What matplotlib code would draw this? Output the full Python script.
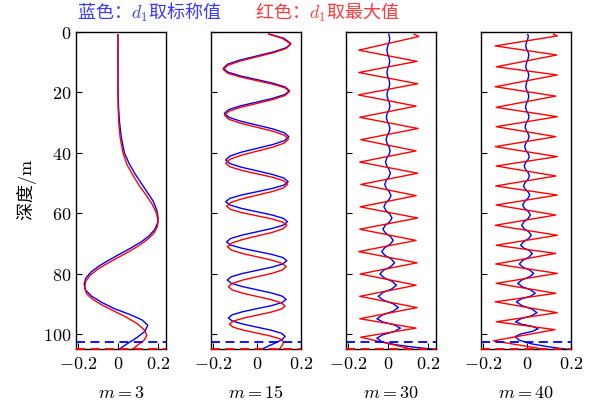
import matplotlib
matplotlib.use("Agg")
import matplotlib.pyplot as plt
from matplotlib.ticker import FixedLocator, FixedFormatter

plt.rcParams["font.family"] = ["Noto Sans CJK SC", "DejaVu Sans"]
plt.rcParams["mathtext.fontset"] = "cm"

# ---- dane (glebokosc [m], wartosc) ----
panel_labels = ["$m=3$", "$m=15$", "$m=30$", "$m=40$"]
x_limits = [(-0.21, 0.24), (-0.21, 0.2), (-0.21, 0.24), (-0.21, 0.2)]
x_ticks = [-0.2, 0, 0.2]
x_tick_labels = ["$-0.2$", "$0$", "$0.2$"]
y_ticks = [0, 20, 40, 60, 80, 100]
y_tick_labels = ["$0$", "$20$", "$40$", "$60$", "$80$", "$100$"]
nominal_line_depth = 102.5
max_line_depth = 105.0

# m = 3
depth_m3_blue = [1, 10, 20, 25, 30, 35, 40, 43.5, 47, 50, 53, 56, 59, 61.5, 63.5, 65.5,
                 67.5, 69.5, 71.5, 73.5, 75.5, 77.5, 79.5, 81.5, 83.5, 85.5, 87.5, 89.5,
                 91.5, 93.5, 95.3, 97, 99, 101, 103, 105]
val_m3_blue = [0, 0, 0.001, 0.003, 0.008, 0.017, 0.032, 0.055, 0.085, 0.115, 0.145, 0.175,
               0.193, 0.2, 0.196, 0.182, 0.155, 0.115, 0.065, 0.01, -0.045, -0.095, -0.135,
               -0.16, -0.168, -0.16, -0.13, -0.08, -0.02, 0.06, 0.12, 0.148, 0.135, 0.097,
               0.05, 0.005]
depth_m3_red = [1, 20, 25, 30, 35, 40, 44, 47.5, 51, 54, 57, 60, 62.5, 64.5, 66.5, 68.5,
                70.5, 72.5, 74.5, 76.5, 78.5, 80.5, 82.5, 84.7, 86.7, 88.5, 90.5, 92.5,
                94.5, 96.5, 98.5, 100.4, 102, 103.5, 105]
val_m3_red = [0, 0, 0.001, 0.004, 0.011, 0.025, 0.045, 0.075, 0.107, 0.14, 0.17, 0.192,
              0.2, 0.196, 0.18, 0.15, 0.11, 0.06, 0.005, -0.05, -0.1, -0.138, -0.16, -0.166,
              -0.155, -0.125, -0.075, -0.015, 0.045, 0.095, 0.13, 0.144, 0.13, 0.1, 0.072]

# m = 15
depth_m15_blue = [0.8, 2.2, 3.9, 5.27, 6.63, 8.0, 9.37, 10.73, 12.1, 13.33, 14.57, 15.8,
                  17.03, 18.27, 19.5, 20.75, 22.0, 23.25, 24.5, 25.75, 27.0, 28.28, 29.57,
                  30.85, 32.13, 33.42, 34.7, 35.98, 37.27, 38.55, 39.83, 41.12, 42.4, 43.6,
                  44.8, 46.0, 47.2, 48.4, 49.6, 50.7, 51.8, 52.9, 54.0, 55.1, 56.2, 57.3,
                  58.4, 59.5, 60.6, 61.7, 62.8, 63.92, 65.03, 66.15, 67.27, 68.38, 69.5,
                  70.53, 71.57, 72.6, 73.63, 74.67, 75.7, 76.77, 77.83, 78.9, 79.97, 81.03,
                  82.1, 83.17, 84.23, 85.3, 86.37, 87.43, 88.5, 89.52, 90.53, 91.55, 92.57,
                  93.58, 94.6, 95.62, 96.63, 97.65, 98.67, 99.68, 100.7, 101.7, 102.7,
                  103.8, 105.0]
val_m15_blue = [0.057, 0.122, 0.153, 0.133, 0.077, 0.0, -0.077, -0.133, -0.153, -0.133,
                -0.078, -0.003, 0.072, 0.127, 0.147, 0.127, 0.073, 0.0, -0.074, -0.128,
                -0.148, -0.128, -0.075, -0.002, 0.071, 0.124, 0.144, 0.125, 0.073, 0.001,
                -0.071, -0.123, -0.142, -0.123, -0.071, 0.0, 0.07, 0.122, 0.141, 0.122,
                0.07, 0.0, -0.071, -0.123, -0.142, -0.123, -0.072, -0.002, 0.068, 0.119,
                0.138, 0.12, 0.069, 0.0, -0.069, -0.12, -0.138, -0.12, -0.07, -0.002,
                0.067, 0.117, 0.135, 0.117, 0.068, 0.0, -0.068, -0.117, -0.135, -0.117,
                -0.068, -0.002, 0.065, 0.114, 0.132, 0.114, 0.067, 0.001, -0.065, -0.112,
                -0.13, -0.113, -0.066, -0.002, 0.063, 0.11, 0.127, 0.115, 0.09, 0.055,
                0.02]
depth_m15_red = [0.8, 2.2, 4.1, 5.5, 6.9, 8.3, 9.7, 11.1, 12.5, 13.72, 14.93, 16.15, 17.37,
                 18.58, 19.8, 21.1, 22.4, 23.7, 25.0, 26.3, 27.6, 28.92, 30.23, 31.55,
                 32.87, 34.18, 35.5, 36.83, 38.17, 39.5, 40.83, 42.17, 43.5, 44.65, 45.8,
                 46.95, 48.1, 49.25, 50.4, 51.62, 52.83, 54.05, 55.27, 56.48, 57.7, 58.75,
                 59.8, 60.85, 61.9, 62.95, 64.0, 65.18, 66.37, 67.55, 68.73, 69.92, 71.1,
                 72.2, 73.3, 74.4, 75.5, 76.6, 77.7, 78.8, 79.9, 81.0, 82.1, 83.2, 84.3,
                 85.37, 86.43, 87.5, 88.57, 89.63, 90.7, 91.7, 92.7, 93.7, 94.7, 95.7, 96.7,
                 97.67, 98.63, 99.6, 100.57, 101.53, 102.5, 103.5, 104.3, 105.0]
val_m15_red = [0.052, 0.115, 0.153, 0.133, 0.077, 0.0, -0.077, -0.133, -0.153, -0.133,
               -0.078, -0.003, 0.072, 0.127, 0.147, 0.127, 0.073, 0.0, -0.074, -0.128,
               -0.148, -0.129, -0.076, -0.003, 0.07, 0.123, 0.142, 0.123, 0.071, 0.0,
               -0.071, -0.123, -0.142, -0.123, -0.072, -0.002, 0.069, 0.12, 0.139, 0.12,
               0.07, 0.0, -0.069, -0.12, -0.138, -0.12, -0.07, -0.002, 0.067, 0.117, 0.135,
               0.117, 0.068, 0.0, -0.067, -0.116, -0.134, -0.116, -0.068, -0.001, 0.066,
               0.114, 0.132, 0.114, 0.067, 0.001, -0.065, -0.112, -0.13, -0.113, -0.066,
               -0.002, 0.063, 0.11, 0.127, 0.11, 0.064, 0.001, -0.062, -0.108, -0.125,
               -0.109, -0.064, -0.003, 0.059, 0.104, 0.12, 0.115, 0.108, 0.1]

# m = 30
depth_m30_blue = [0.8, 1.6, 2.4, 3.63, 4.87, 6.1, 7.33, 8.57, 9.8, 11.03, 12.27, 13.5,
                  14.73, 15.97, 17.2, 18.43, 19.67, 20.9, 22.13, 23.37, 24.6, 25.83, 27.07,
                  28.3, 29.53, 30.77, 32.0, 33.23, 34.47, 35.7, 36.93, 38.17, 39.4, 40.63,
                  41.87, 43.1, 44.33, 45.57, 46.8, 48.03, 49.27, 50.5, 51.73, 52.97, 54.2,
                  55.43, 56.67, 57.9, 59.13, 60.37, 61.6, 62.83, 64.07, 65.3, 66.53, 67.77,
                  69.0, 70.23, 71.47, 72.7, 73.93, 75.17, 76.4, 77.63, 78.87, 80.1, 81.33,
                  82.57, 83.8, 85.03, 86.27, 87.5, 88.73, 89.97, 91.2, 92.43, 93.67, 94.9,
                  95.93, 96.97, 98.0, 99.1, 100.2, 101.3, 102.5, 103.5, 104.3, 105.0]
val_m30_blue = [0.004, 0.007, 0.009, 0.0055, -0.0015, -0.005, -0.0015, 0.0055, 0.009,
                0.0055, -0.0015, -0.005, -0.0015, 0.0055, 0.009, 0.0055, -0.0015, -0.005,
                -0.0013, 0.0063, 0.01, 0.0055, -0.0035, -0.008, -0.0035, 0.0055, 0.01,
                0.0053, -0.0043, -0.009, -0.004, 0.006, 0.011, 0.0053, -0.0063, -0.012,
                -0.006, 0.006, 0.012, 0.005, -0.009, -0.016, -0.0083, 0.0073, 0.015,
                0.0063, -0.0113, -0.02, -0.01, 0.01, 0.02, 0.0088, -0.0138, -0.025,
                -0.0123, 0.0133, 0.026, 0.0118, -0.0168, -0.031, -0.015, 0.017, 0.033,
                0.0148, -0.0218, -0.04, -0.0195, 0.0215, 0.042, 0.0195, -0.0255, -0.048,
                -0.023, 0.027, 0.052, 0.0253, -0.0283, -0.055, -0.0258, 0.0328, 0.062,
                0.0328, -0.0258, -0.055, -0.03, 0.04, 0.13, 0.23]
depth_m30_red = [0.8, 1.6, 6.1, 9.8, 13.5, 17.2, 20.9, 24.6, 28.3, 32.0, 35.7, 39.4, 43.1,
                 46.8, 50.5, 54.2, 57.9, 61.6, 65.3, 69.0, 72.7, 76.4, 80.1, 83.8, 87.5,
                 91.2, 94.9, 98.0, 101.0, 105.0]
val_m30_red = [0.13, 0.153, -0.145, 0.145, -0.145, 0.148, -0.147, 0.14, -0.14, 0.15,
               -0.135, 0.14, -0.14, 0.148, -0.135, 0.14, -0.138, 0.148, -0.14, 0.14,
               -0.145, 0.145, -0.138, 0.14, -0.14, 0.145, -0.14, 0.14, -0.135, 0.124]

# m = 40
depth_m40_blue = [1.0, 1.4, 2.5, 3.6, 4.7, 5.7, 6.7, 7.7, 9.0, 10.3, 11.6, 12.5, 13.4,
                  14.3, 15.6, 16.9, 18.2, 19.23, 20.27, 21.3, 22.53, 23.77, 25.0, 26.03,
                  27.07, 28.1, 29.2, 30.3, 31.4, 32.5, 33.6, 34.7, 35.8, 36.9, 38.0, 39.1,
                  40.2, 41.3, 42.33, 43.37, 44.4, 45.5, 46.6, 47.7, 48.8, 49.9, 51.0, 52.0,
                  53.0, 54.0, 55.1, 56.2, 57.3, 58.4, 59.5, 60.6, 61.73, 62.87, 64.0, 65.1,
                  66.2, 67.3, 68.4, 69.5, 70.6, 71.5, 72.4, 73.3, 74.47, 75.63, 76.8, 77.83,
                  78.87, 79.9, 81.0, 82.1, 83.2, 84.3, 85.4, 86.5, 87.43, 88.37, 89.3, 90.5,
                  91.7, 92.9, 93.9, 94.9, 95.9, 96.67, 97.43, 98.2, 99.07, 99.93, 100.8,
                  102.0, 103.2, 104.2, 105.0]
val_m40_blue = [0.003, 0.006, 0.003, -0.003, -0.006, -0.0025, 0.0045, 0.008, 0.0045,
                -0.0025, -0.006, -0.0025, 0.0045, 0.008, 0.0045, -0.0025, -0.006, -0.0025,
                0.0045, 0.008, 0.0043, -0.0033, -0.007, -0.003, 0.005, 0.009, 0.0045,
                -0.0045, -0.009, -0.0045, 0.0045, 0.009, 0.004, -0.006, -0.011, -0.0058,
                0.0048, 0.01, 0.0043, -0.0073, -0.013, -0.007, 0.005, 0.011, 0.0043,
                -0.0093, -0.016, -0.009, 0.005, 0.012, 0.004, -0.012, -0.02, -0.0113,
                0.0063, 0.015, 0.0053, -0.0143, -0.024, -0.0133, 0.0083, 0.019, 0.007,
                -0.017, -0.029, -0.0158, 0.0108, 0.024, 0.0093, -0.0203, -0.035, -0.0188,
                0.0138, 0.03, 0.012, -0.024, -0.042, -0.0223, 0.0173, 0.037, 0.0158,
                -0.0268, -0.048, -0.0248, 0.0218, 0.045, 0.0208, -0.0278, -0.052, -0.0265,
                0.0245, 0.05, 0.024, -0.028, -0.054, -0.035, 0.02, 0.1, 0.18]
depth_m40_red = [0.8, 1.4, 4.7, 7.7, 11.6, 14.3, 18.2, 21.3, 25.0, 28.1, 31.4, 34.7, 38.0,
                 41.3, 44.4, 47.7, 51.0, 54.0, 57.3, 60.6, 64.0, 67.3, 70.6, 73.3, 76.8,
                 79.9, 83.2, 86.5, 89.3, 92.9, 95.9, 98.5, 102.2, 105.0]
val_m40_red = [0.12, 0.137, -0.144, 0.135, -0.14, 0.137, -0.144, 0.13, -0.14, 0.137,
               -0.14, 0.13, -0.144, 0.137, -0.14, 0.13, -0.142, 0.137, -0.14, 0.13, -0.144,
               0.137, -0.14, 0.13, -0.142, 0.137, -0.14, 0.13, -0.144, 0.137, -0.14, 0.126,
               -0.152, 0.08]

blue_curves = [(depth_m3_blue, val_m3_blue), (depth_m15_blue, val_m15_blue),
               (depth_m30_blue, val_m30_blue), (depth_m40_blue, val_m40_blue)]
red_curves = [(depth_m3_red, val_m3_red), (depth_m15_red, val_m15_red),
              (depth_m30_red, val_m30_red), (depth_m40_red, val_m40_red)]


def draw_panel(ax, blue, red, xlim, label, first):
    ax.plot(blue[1], blue[0], color="blue", lw=1.0)
    ax.plot(red[1], red[0], color="red", lw=1.0)
    ax.axhline(nominal_line_depth, color="blue", lw=1.3, ls=(0, (5, 3)))
    ax.axhline(max_line_depth, color="red", lw=1.3, ls=(0, (5, 3)), clip_on=False, zorder=5)

    ax.set_xlim(*xlim)
    ax.set_ylim(max_line_depth, 0)

    ax.xaxis.set_major_locator(FixedLocator(x_ticks))
    ax.xaxis.set_major_formatter(FixedFormatter(x_tick_labels))
    ax.yaxis.set_major_locator(FixedLocator(y_ticks))
    if first:
        ax.yaxis.set_major_formatter(FixedFormatter(y_tick_labels))
        ax.set_ylabel("深度$/\\mathrm{m}$", fontsize=13, labelpad=3)
    else:
        ax.set_yticklabels([])

    ax.tick_params(direction="in", length=4, width=0.8, top=False, right=False, labelsize=13)
    ax.tick_params(axis="x", pad=4)
    ax.tick_params(axis="y", pad=3)
    for sp in ax.spines.values():
        sp.set_linewidth(1.0)
    ax.set_xlabel(label, labelpad=8, fontsize=13)


def main():
    fig = plt.figure(figsize=(5.95, 4.05), dpi=100)

    lefts = [75.7, 210.7, 345.7, 480.7]
    for i in range(4):
        ax = fig.add_axes([lefts[i] / 595, (405 - 349.3) / 405, 90.5 / 595, 317.6 / 405])
        draw_panel(ax, blue_curves[i], red_curves[i], x_limits[i], panel_labels[i], i == 0)

    fig.text(77 / 595, 1 - 12.5 / 405, "蓝色：$d_1$取标称值", color="#3a3aff",
             ha="left", va="center", fontsize=13)
    fig.text(255 / 595, 1 - 12.5 / 405, "红色：$d_1$取最大值", color="#ff3a3a",
             ha="left", va="center", fontsize=13)

    fig.savefig("out.png", dpi=100)
    plt.close(fig)


if __name__ == "__main__":
    main()
